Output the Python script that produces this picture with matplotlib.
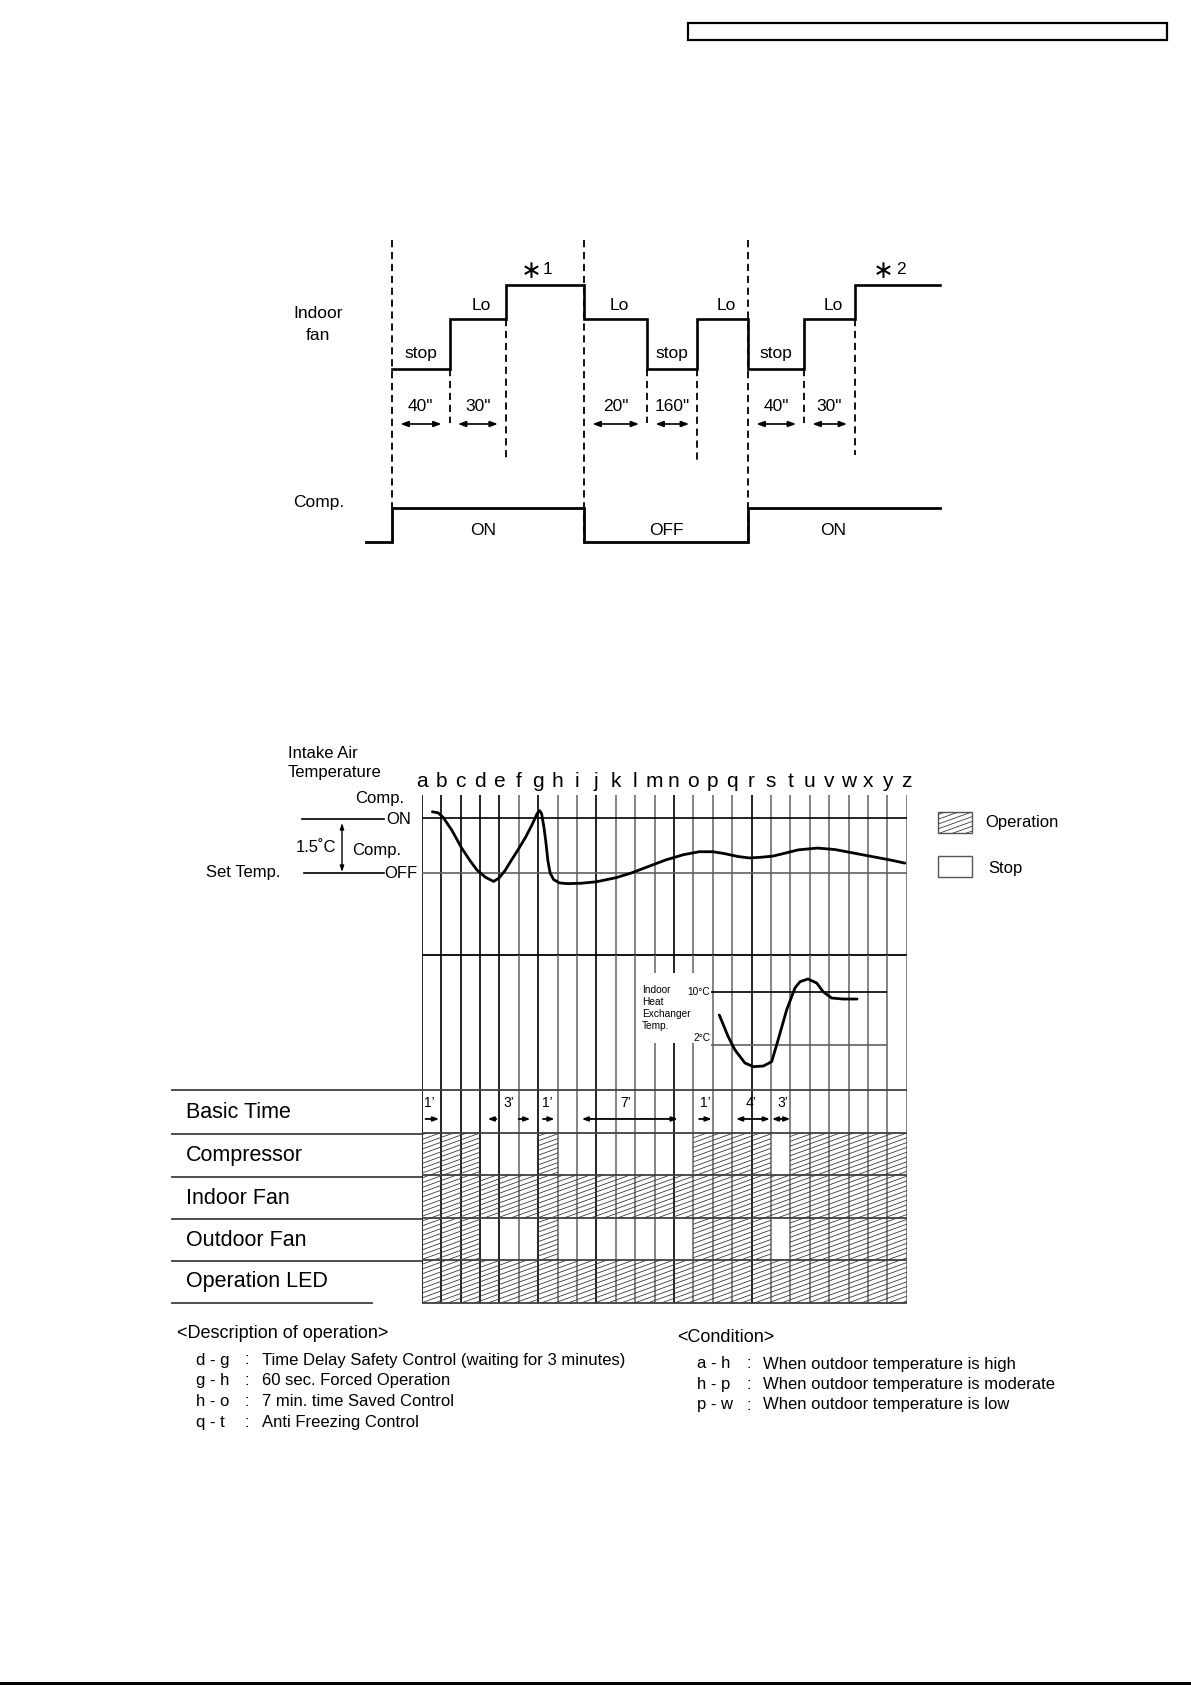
import numpy as np
import matplotlib
matplotlib.use('Agg')
import matplotlib.pyplot as plt
from matplotlib.patches import Rectangle, Polygon
from matplotlib.collections import LineCollection
from matplotlib.transforms import IdentityTransform

plt.rcParams['font.family'] = ['Liberation Sans', 'DejaVu Sans']

# ---------------- data ----------------
# upper timing diagram (schematic time axis)
fan_edges = [6.2, 11.95, 17.58, 25.4, 31.7, 36.7, 41.8, 47.4, 52.5, 61.0]
fan_states = ['stop', 'Lo', 'Hi', 'Lo', 'stop', 'Lo', 'stop', 'Lo', 'Hi']
fan_state_labels = ['stop', 'Lo', '1', 'Lo', 'stop', 'Lo', 'stop', 'Lo', '2']
comp_edges = [3.6, 6.2, 25.4, 41.8, 61.0]
comp_states = ['OFF', 'ON', 'OFF', 'ON']
comp_labels = ['', 'ON', 'OFF', 'ON']
delay_segments = [0, 1, 3, 4, 6, 7]
delay_labels = ['40"', '30"', '20"', '160"', '40"', '30"']

# lower chart
columns = list('abcdefghijklmnopqrstuvwxyz')
intake_col = [0.55, 0.85, 1.1, 1.55, 2.06, 2.5, 2.85, 3.3, 3.71, 4.0, 4.3, 4.6, 4.95, 5.36,
              5.7, 5.95, 6.08, 6.18, 6.3, 6.4, 6.5, 6.62, 6.8, 7.1, 7.5, 8.2, 9.0, 10.0,
              10.8, 11.7, 12.6, 13.5, 14.3, 15.0, 15.6, 16.3, 16.9, 17.5, 18.1, 18.8,
              19.4, 20.4, 21.3, 22.2, 23.2, 24.2, 24.9]
intake_temp = [1.67, 1.64, 1.52, 1.17, 0.68, 0.33, 0.08, -0.12, -0.23, -0.13, 0.07, 0.33, 0.62, 0.98,
               1.33, 1.62, 1.70, 1.62, 1.25, 0.85, 0.35, 0.0, -0.18, -0.27, -0.29, -0.28, -0.24, -0.13,
               0.0, 0.18, 0.36, 0.50, 0.58, 0.58, 0.53, 0.45, 0.41, 0.43, 0.46, 0.55,
               0.63, 0.68, 0.64, 0.55, 0.45, 0.35, 0.27]
hx_col = [15.34, 15.8, 16.15, 16.66, 17.09, 17.61, 18.04, 18.37, 18.81, 19.24, 19.5,
          19.91, 20.36, 20.69, 21.13, 21.72, 22.44]
hx_temp = [6.5, 3.24, 1.25, -0.7, -1.26, -1.16, -0.51, 2.75, 7.25, 10.56, 11.5,
           11.91, 11.31, 10.0, 9.05, 8.9, 8.9]
row_names = ['Basic Time', 'Compressor', 'Indoor Fan', 'Outdoor Fan', 'Operation LED']
compressor_on = '1110001000000011110111111'
indoor_fan_on = '1111111111111111111111111'
outdoor_fan_on = '1110001000000011110111111'
led_on = '1111111111111111111111111'
basic_time_labels = ["1’", "3’", "1’", "7’", "1’", "4’", "3’"]
basic_time_label_col = [0.4, 4.5, 6.5, 10.5, 14.6, 17.0, 18.6]
basic_time_arrows = [(0.2, 0.9, '-|>'), (3.85, 3.4, '-|>'), (5.0, 5.6, '-|>'), (6.25, 6.85, '-|>'),
                     (8.25, 13.2, '<|-|>'), (14.3, 14.95, '-|>'), (16.2, 17.95, '<|-|>'),
                     (18.05, 19.0, '<|-|>')]
desc_codes = ['d - g', 'g - h', 'h - o', 'q - t']
desc_texts = ['Time Delay Safety Control (waiting for 3 minutes)', '60 sec. Forced Operation',
              '7 min. time Saved Control', 'Anti Freezing Control']
cond_codes = ['a - h', 'h - p', 'p - w']
cond_texts = ['When outdoor temperature is high', 'When outdoor temperature is moderate',
              'When outdoor temperature is low']

# ---------------- figure ----------------
W, H = 1191, 1685
DPI = 100
fig = plt.figure(figsize=(W / DPI, H / DPI), dpi=DPI)
fig.patch.set_facecolor('white')


def add_px_axes(x0, y0, x1, y1):
    ax = fig.add_axes([x0 / W, 1 - y1 / H, (x1 - x0) / W, (y1 - y0) / H])
    ax.set_axis_off()
    ax.set_autoscale_on(False)
    return ax


def hatch_rect(ax, x0, y0, x1, y1, spacing=4.8, slope=0.36, color='#3a3a3a', lw=0.6):
    T = ax.transData
    p0 = T.transform((x0, y0))
    p1 = T.transform((x1, y1))
    lx, rx = min(p0[0], p1[0]), max(p0[0], p1[0])
    ly, hy = min(p0[1], p1[1]), max(p0[1], p1[1])
    bmin = ly - slope * rx
    bmax = hy - slope * lx
    k0 = np.floor(bmin / spacing)
    bs = np.arange(k0 * spacing, bmax + spacing, spacing)
    segs = [[(lx - 1, b + slope * (lx - 1)), (rx + 1, b + slope * (rx + 1))] for b in bs]
    lc = LineCollection(segs, colors=color, linewidths=lw, transform=IdentityTransform())
    ax.add_collection(lc, autolim=False)
    clip = Polygon([(x0, y0), (x1, y0), (x1, y1), (x0, y1)], closed=True,
                   transform=ax.transData)
    lc.set_clip_path(clip)


bg = add_px_axes(0, 0, W, H)
bg.set_xlim(0, W)
bg.set_ylim(H, 0)

# header box and bottom rule
bg.add_patch(Rectangle((688, 22.6), 479, 17.2, fill=False, lw=1.6, ec='black'))
bg.plot([0, W], [1683, 1683], color='black', lw=2.2)

# ---------------- upper timing diagram ----------------
top = add_px_axes(330, 230, 960, 560)
top.set_xlim(0, 63)
top.set_ylim(-5.685, 4.137)
level_y = {'stop': 0.0, 'Lo': 1.5, 'Hi': 2.5}
comp_y = {'OFF': -5.15, 'ON': -4.15}

xs, ys = [], []
for i, s in enumerate(fan_states):
    xs += [fan_edges[i], fan_edges[i + 1]]
    ys += [level_y[s], level_y[s]]
top.plot(xs, ys, color='black', lw=1.9, solid_joinstyle='miter', zorder=3, clip_on=False)

xs, ys = [], []
for i, s in enumerate(comp_states):
    xs += [comp_edges[i], comp_edges[i + 1]]
    ys += [comp_y[s], comp_y[s]]
top.plot(xs, ys, color='black', lw=2.0, solid_joinstyle='miter', zorder=3, clip_on=False)

dash = (0, (4, 2.6))
dtop = 3.84
for e, bot in [(0, comp_y['ON']), (3, comp_y['OFF']), (6, comp_y['OFF'])]:
    top.plot([fan_edges[e]] * 2, [dtop, bot], color='black', lw=1.3, linestyle=dash, zorder=2)
short_depth = {1: -1.6, 2: -2.7, 4: -1.6, 5: -2.7, 7: -1.6, 8: -2.56}
for e, bot in short_depth.items():
    lvl = min(level_y[fan_states[e - 1]], level_y[fan_states[e]])
    top.plot([fan_edges[e]] * 2, [lvl, bot], color='black', lw=1.3, linestyle=dash, zorder=2)

for i, s in enumerate(fan_states):
    cx = 0.5 * (fan_edges[i] + fan_edges[i + 1])
    lab = fan_state_labels[i]
    if s == 'Hi':
        top.text(cx - 1.4, level_y[s] + 0.42, '\u2217', fontsize=18, ha='center', va='center',
                 family=['DejaVu Sans'])
        top.text(cx + 0.3, level_y[s] + 0.45, lab, fontsize=12.5, ha='center', va='center')
    elif s == 'Lo':
        top.text(cx + 0.4, level_y[s] + 0.4, lab, fontsize=12.5, ha='center', va='center')
    else:
        top.text(cx, level_y[s] + 0.45, lab, fontsize=12.5, ha='center', va='center')

for seg, lab in zip(delay_segments, delay_labels):
    a, b = fan_edges[seg], fan_edges[seg + 1]
    cx = 0.5 * (a + b)
    top.annotate('', xy=(b - 0.8, -1.637), xytext=(a + 0.85, -1.637),
                 arrowprops=dict(arrowstyle='<|-|>,head_length=0.45,head_width=0.17',
                                 color='black', lw=1.2, shrinkA=0, shrinkB=0))
    top.text(cx, -1.13, lab, fontsize=12.5, ha='center', va='center')

comp_label_shift = [0, -0.5, 0, -1.1]
for i, lab in enumerate(comp_labels):
    if lab:
        cx = 0.5 * (comp_edges[i] + comp_edges[i + 1]) + comp_label_shift[i]
        top.text(cx, -4.82, lab, fontsize=12.5, ha='center', va='center')

bg.text(318, 314, 'Indoor', fontsize=12.5, ha='center', va='center')
bg.text(318, 335, 'fan', fontsize=12.5, ha='center', va='center')
bg.text(319, 503, 'Comp.', fontsize=12.5, ha='center', va='center')

# ---------------- lower chart ----------------
GX0, GX1 = 421.7, 906.7
ncol = len(columns) - 1
dark_cols = {0, 1, 2, 3, 4, 6, 9, 13, 17}
vcolors = ['black' if i in dark_cols else '#707070' for i in range(len(columns))]

# intake air temperature panel
ax_t = add_px_axes(GX0, 795, GX1, 955)
ax_t.set_xlim(0, ncol)
ax_t.set_ylim(-2.236, 2.127)
ax_t.vlines(range(len(columns)), -2.236, 2.127, colors=vcolors, lw=1.2, zorder=1)
ax_t.hlines([1.5, 0.0], 0, ncol, colors=['black', '#606060'], lw=1.2, zorder=1)
ax_t.hlines([-2.236], 0, ncol, colors='black', lw=1.3, zorder=1, clip_on=False)
ax_t.plot(intake_col, intake_temp, color='black', lw=2.0, solid_joinstyle='round',
          solid_capstyle='round', zorder=3)
for i, c in enumerate(columns):
    ax_t.text(i, 2.345, c, fontsize=15, ha='center', va='baseline', clip_on=False)

bg.text(288, 753, 'Intake Air', fontsize=12, ha='left', va='center')
bg.text(288, 773, 'Temperature', fontsize=12, ha='left', va='center')
bg.text(380, 799, 'Comp.', fontsize=12, ha='center', va='center')
bg.plot([301.5, 384], [819, 819], color='black', lw=1.2)
bg.text(386, 820, 'ON', fontsize=12, ha='left', va='center')
bg.text(316, 848, '1.5˚C', fontsize=12, ha='center', va='center')
bg.annotate('', xy=(342, 823), xytext=(342, 872),
            arrowprops=dict(arrowstyle='<|-|>,head_length=0.35,head_width=0.12',
                            color='black', lw=1.0, shrinkA=0, shrinkB=0))
bg.text(377, 850, 'Comp.', fontsize=12, ha='center', va='center')
bg.text(243, 872, 'Set Temp.', fontsize=12, ha='center', va='center')
bg.plot([304, 384], [873, 873], color='black', lw=1.2)
bg.text(384, 874, 'OFF', fontsize=12, ha='left', va='center')

# heat exchanger panel
ax_h = add_px_axes(GX0, 955, GX1, 1090)
ax_h.set_xlim(0, ncol)
ax_h.set_ylim(-4.76, 15.51)
ax_h.vlines(range(len(columns)), -4.76, 15.51, colors=vcolors, lw=1.2, zorder=1)
ax_h.hlines([10, 2], 14.9, 24, colors=['black', '#606060'], lw=1.2, zorder=1)
ax_h.add_patch(Rectangle((11.3, 2.3), 3.6, 10.5, fc='white', ec='none', zorder=2))
ax_h.text(11.35, 11.0, 'Indoor\nHeat\nExchanger\nTemp.', fontsize=7.3, ha='left', va='top',
          linespacing=1.25, zorder=3)
ax_h.text(14.88, 10.0, '10°C', fontsize=7.3, ha='right', va='center', zorder=3)
ax_h.text(14.88, 3.0, '2°C', fontsize=7.3, ha='right', va='center', zorder=3)
ax_h.plot(hx_col, hx_temp, color='black', lw=2.0, solid_joinstyle='round',
          solid_capstyle='round', zorder=3)

# state rows
ax_r = add_px_axes(GX0, 1090, GX1, 1303)
ax_r.set_xlim(0, ncol)
ax_r.set_ylim(len(row_names), 0)
ax_r.vlines(range(len(columns)), 0, len(row_names), colors=vcolors, lw=1.2, zorder=2)
ax_r.hlines(range(len(row_names) + 1), 0, ncol, colors='#404040', lw=1.3, zorder=2,
            clip_on=False)
states = [compressor_on, indoor_fan_on, outdoor_fan_on, led_on]
for r, st in enumerate(states, start=1):
    for c, flag in enumerate(st):
        if flag == '1':
            hatch_rect(ax_r, c, r, c + 1, r + 1)

for lab, cx in zip(basic_time_labels, basic_time_label_col):
    ax_r.text(cx, 0.3, lab, fontsize=10, ha='center', va='center')
for a, b, style in basic_time_arrows:
    ax_r.annotate('', xy=(b, 0.68), xytext=(a, 0.68),
                  arrowprops=dict(arrowstyle=style + ',head_length=0.35,head_width=0.13',
                                  color='black', lw=1.3, shrinkA=0, shrinkB=0))

row_edges_px = [1090, 1134, 1177, 1219, 1261, 1303]
for i, name in enumerate(row_names):
    bg.text(186, 0.5 * (row_edges_px[i] + row_edges_px[i + 1]), name, fontsize=15.5,
            ha='left', va='center')
for y in row_edges_px[:-1]:
    bg.plot([172, GX0], [y, y], color='#404040', lw=1.3)
bg.plot([172, 372], [1303, 1303], color='#404040', lw=1.3)

# legend
bg.add_patch(Rectangle((938, 812), 34, 21, fill=False, ec='#555555', lw=1.0))
hatch_rect(bg, 938, 812, 972, 833)
bg.text(985, 823, 'Operation', fontsize=12, ha='left', va='center')
bg.add_patch(Rectangle((938, 856), 34, 21, fill=False, ec='#555555', lw=1.0))
bg.text(988, 869, 'Stop', fontsize=12, ha='left', va='center')

# description and condition
bg.text(177, 1333, '<Description of operation>', fontsize=13, ha='left', va='center')
for i, (code, txt) in enumerate(zip(desc_codes, desc_texts)):
    y = 1360 + i * 20.7
    bg.text(196, y, code, fontsize=12, ha='left', va='center')
    bg.text(245, y, ':', fontsize=12, ha='left', va='center')
    bg.text(262, y, txt, fontsize=12, ha='left', va='center')

bg.text(677, 1337, '<Condition>', fontsize=13, ha='left', va='center')
for i, (code, txt) in enumerate(zip(cond_codes, cond_texts)):
    y = 1364 + i * 20.5
    bg.text(697, y, code, fontsize=12, ha='left', va='center')
    bg.text(746, y, ':', fontsize=12, ha='left', va='center')
    bg.text(763, y, txt, fontsize=12, ha='left', va='center')

fig.savefig('out.png', dpi=DPI, facecolor='white')
